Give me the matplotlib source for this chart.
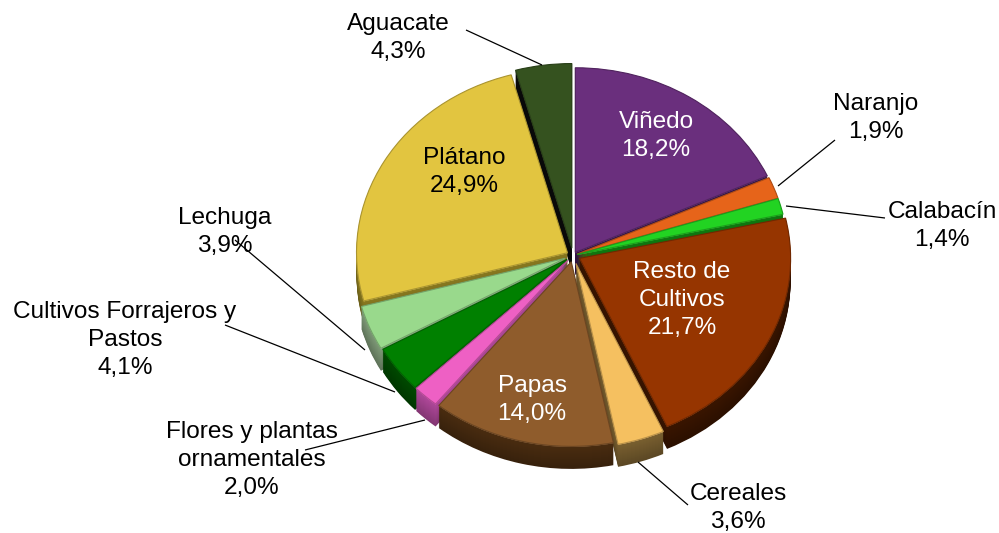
import matplotlib
matplotlib.use("Agg")
import matplotlib.pyplot as plt
import numpy as np
from matplotlib.colors import to_rgb

plt.rcParams['font.family'] = ['Liberation Sans', 'DejaVu Sans']

categories = ["Viñedo", "Naranjo", "Calabacín", "Resto de\nCultivos", "Cereales", "Papas",
              "Flores y plantas\nornamentales", "Cultivos Forrajeros y\nPastos", "Lechuga",
              "Plátano", "Aguacate"]
values = [18.2, 1.9, 1.4, 21.7, 3.6, 14.0, 2.0, 4.1, 3.9, 24.9, 4.3]
labels = ["18,2%", "1,9%", "1,4%", "21,7%", "3,6%", "14,0%", "2,0%", "4,1%", "3,9%", "24,9%", "4,3%"]
colors = ["#6a2f7d", "#e6641a", "#22d322", "#963500", "#f5c060", "#8f5c2c",
          "#ee60c4", "#008000", "#99d98c", "#e2c540", "#35521f"]
side_colors = ["#35174a", "#8a3c10", "#0f7a10", "#3a1500", "#7a6030", "#4a2c10",
               "#b0489a", "#004a00", "#7f9a78", "#8a7a20", "#0a0a0a"]
explode = [0.02, 0.02, 0.02, 0.035, 0.045, 0.035, 0.035, 0.035, 0.04, 0.03, 0.04]

# label centre in pixels, colour
label_pos = [(656, 136, "white"), (876, 118, "black"), (942, 226, "black"), (682, 300, "white"),
             (738, 508, "black"), (532, 400, "white"), (252, 460, "black"), (125, 340, "black"),
             (225, 232, "black"), (464, 172, "black"), (398, 38, "black")]
leaders = [None, ((835, 140), (778, 186)), ((885, 218), (786, 206)), None,
           ((688, 505), (638, 462)), None, ((305, 450), (425, 420)), ((225, 325), (395, 392)),
           ((235, 240), (365, 350)), None, ((466, 30), (542, 65))]

W, H = 999, 533
cx, cy = 573, 256
radius = 211
squash = 0.875
depth = 22


def mix(c, other, t):
    c, other = np.array(to_rgb(c)), np.array(to_rgb(other))
    return tuple(c * (1 - t) + other * t)


fig = plt.figure(figsize=(W / 100, H / 100), dpi=100)
ax = fig.add_axes([0, 0, 1, 1])


def draw_layer(offset, cols, **kw):
    # y grows downwards, so angles run clockwise on screen
    wedges, _ = ax.pie(values, colors=cols, explode=[e * radius for e in explode], radius=radius,
                       startangle=-90, center=(cx, (cy + offset) / squash), **kw)
    return wedges


for d in range(depth, 0, -1):
    t = d / depth
    draw_layer(d, [mix(c, "black", 0.25 * t) for c in side_colors], wedgeprops={"linewidth": 0})

draw_layer(0, [mix(c, "white", 0.22) for c in colors], wedgeprops={"linewidth": 0})
wedges = draw_layer(-0.5, colors, wedgeprops={"linewidth": 0.8, "edgecolor": "none"})
for w, c in zip(wedges, colors):
    w.set_edgecolor(mix(c, "black", 0.25))

ax.set_aspect("auto")
ax.set_xlim(0, W)
ax.set_ylim(H / squash, 0)
ax.set_axis_off()

tx = fig.add_axes([0, 0, 1, 1], facecolor="none")
tx.set_xlim(0, W)
tx.set_ylim(H, 0)
tx.set_axis_off()

for name, val, (x, y, col), lead in zip(categories, labels, label_pos, leaders):
    if lead is not None:
        tx.plot(*zip(*lead), color="black", lw=0.9, solid_capstyle="butt")
    tx.text(x, y, name + "\n" + val, color=col, ha="center", va="center", fontsize=17.6, linespacing=1.34)

fig.savefig("out.png", dpi=100)
